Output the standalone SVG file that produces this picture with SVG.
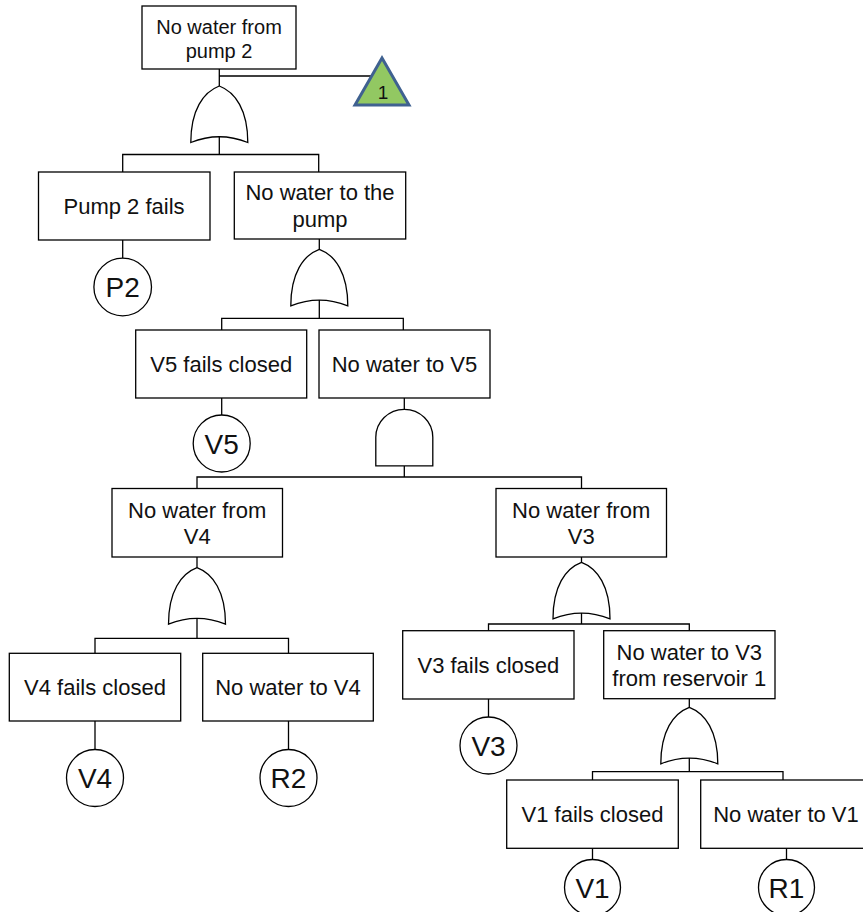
<svg xmlns="http://www.w3.org/2000/svg" xmlns:xlink="http://www.w3.org/1999/xlink" width="863" height="912" viewBox="0 0 863 912">
  <style>
    .box { fill: #ffffff; stroke: #000000; stroke-width: 1.3; }
    .gate { fill: #ffffff; stroke: #000000; stroke-width: 1.3; }
    .basic { fill: #ffffff; stroke: #000000; stroke-width: 1.3; }
    .wire { fill: none; stroke: #000000; stroke-width: 1.3; }
    .lbl { font-family: "Liberation Sans", Arial, sans-serif; font-size: 22px; fill: #111111; text-anchor: middle; }
    .lbl-top { font-family: "Liberation Sans", Arial, sans-serif; font-size: 20px; fill: #111111; text-anchor: middle; }
    .ev { font-family: "Liberation Sans", Arial, sans-serif; font-size: 28px; fill: #111111; text-anchor: middle; }
    .xfer { fill: #92C862; stroke: #3F6190; stroke-width: 3; stroke-linejoin: miter; }
    .xfer-lbl { font-family: "Liberation Sans", Arial, sans-serif; font-size: 19px; fill: #111111; text-anchor: middle; }
  </style>
  <defs>
    <!-- OR gate, origin at the top point -->
    <path id="or-gate" class="gate" d="M0,0 C16,6 28.5,24 28.5,56.5 Q0,45 -28.5,56.5 C-28.5,24 -16,6 0,0 Z"/>
    <!-- AND gate, origin at the top of the dome -->
    <path id="and-gate" class="gate" d="M-28.5,56.5 L-28.5,28 A28.5,28 0 0 1 28.5,28 L28.5,56.5 Z"/>
  </defs>

  <!-- connectors -->
  <g id="connectors" class="wire">
    <path d="M219.3,69 V86 M219.3,76 H372"/>
    <path d="M219.3,136.8 V154.5 M122.7,172 V154.5 H318.7 V172"/>
    <path d="M122.7,240 V258.5"/>
    <path d="M319.3,239 V249.3 M319.3,300 V318.3 M221.7,330 V318.3 H403.3 V330"/>
    <path d="M221.7,398 V415"/>
    <path d="M404.3,398 V409.3 M404.3,466 V477 M197,488.5 V477 H581.5 V488.5"/>
    <path d="M197,557 V567.7 M197,618.5 V638.3 M95,653.3 V638.3 H288.5 V653.3"/>
    <path d="M95,721 V749.5 M288.5,721 V749.5"/>
    <path d="M581.5,557 V562.3 M581.5,613 V624 M488.5,630.7 V624 H689.3 V630.7"/>
    <path d="M488.5,699 V717"/>
    <path d="M689.3,699 V707.3 M689.3,758 V771.7 M592.5,780 V771.7 H783 V780"/>
    <path d="M592.5,848.3 V859 M786.5,848.3 V859"/>
  </g>

  <!-- top event -->
  <g id="top-event">
    <rect class="box" x="142" y="6" width="154" height="63"/>
    <text class="lbl-top" x="219" y="34">No water from</text>
    <text class="lbl-top" x="219" y="58">pump 2</text>
  </g>
  <g id="transfer-1">
    <polygon class="xfer" points="382,58 409,105 355,105"/>
    <text class="xfer-lbl" x="383" y="99">1</text>
  </g>
  <g id="gate-top"><use xlink:href="#or-gate" x="219.3" y="86"/></g>

  <!-- level 2 -->
  <g id="pump2-fails">
    <rect class="box" x="38.5" y="172" width="171.5" height="68"/>
    <text class="lbl" x="124" y="214">Pump 2 fails</text>
  </g>
  <g id="event-p2">
    <circle class="basic" cx="122.7" cy="287" r="28.8"/>
    <text class="ev" x="122.7" y="297">P2</text>
  </g>
  <g id="no-water-pump">
    <rect class="box" x="234.3" y="172" width="171.4" height="67"/>
    <text class="lbl" x="320" y="200">No water to the</text>
    <text class="lbl" x="320" y="227">pump</text>
  </g>
  <g id="gate-pump"><use xlink:href="#or-gate" x="319.3" y="249.3"/></g>

  <!-- level 3 -->
  <g id="v5-fails">
    <rect class="box" x="135.7" y="330" width="171" height="68"/>
    <text class="lbl" x="221.2" y="372">V5 fails closed</text>
  </g>
  <g id="event-v5">
    <circle class="basic" cx="221.7" cy="443.5" r="28.5"/>
    <text class="ev" x="221.7" y="453.5">V5</text>
  </g>
  <g id="no-water-v5">
    <rect class="box" x="319" y="330" width="171" height="68"/>
    <text class="lbl" x="404.5" y="372">No water to V5</text>
  </g>
  <g id="gate-v5"><use xlink:href="#and-gate" x="404.3" y="409.3"/></g>

  <!-- level 4 -->
  <g id="no-water-from-v4">
    <rect class="box" x="112" y="488.5" width="170.5" height="68.5"/>
    <text class="lbl" x="197.2" y="518">No water from</text>
    <text class="lbl" x="197.2" y="544">V4</text>
  </g>
  <g id="gate-v4"><use xlink:href="#or-gate" x="197" y="567.7"/></g>
  <g id="no-water-from-v3">
    <rect class="box" x="496" y="488.5" width="170.5" height="68.5"/>
    <text class="lbl" x="581.2" y="518">No water from</text>
    <text class="lbl" x="581.2" y="544">V3</text>
  </g>
  <g id="gate-v3"><use xlink:href="#or-gate" x="581.5" y="562.3"/></g>

  <!-- V4 branch -->
  <g id="v4-fails">
    <rect class="box" x="9.3" y="653.3" width="171.4" height="67.7"/>
    <text class="lbl" x="95" y="695">V4 fails closed</text>
  </g>
  <g id="event-v4">
    <circle class="basic" cx="95" cy="778" r="28.5"/>
    <text class="ev" x="95" y="788">V4</text>
  </g>
  <g id="no-water-v4">
    <rect class="box" x="202.7" y="653.3" width="170.6" height="67.7"/>
    <text class="lbl" x="288" y="695">No water to V4</text>
  </g>
  <g id="event-r2">
    <circle class="basic" cx="288.5" cy="778" r="28.5"/>
    <text class="ev" x="288.5" y="788">R2</text>
  </g>

  <!-- V3 branch -->
  <g id="v3-fails">
    <rect class="box" x="402.7" y="630.7" width="171.3" height="68.3"/>
    <text class="lbl" x="488.4" y="673">V3 fails closed</text>
  </g>
  <g id="event-v3">
    <circle class="basic" cx="488.5" cy="745.5" r="28.5"/>
    <text class="ev" x="488.5" y="755.5">V3</text>
  </g>
  <g id="no-water-v3-r1">
    <rect class="box" x="603.7" y="630.7" width="171.3" height="68"/>
    <text class="lbl" x="689.3" y="660">No water to V3</text>
    <text class="lbl" x="689.3" y="686">from reservoir 1</text>
  </g>
  <g id="gate-v3-r1"><use xlink:href="#or-gate" x="689.3" y="707.3"/></g>

  <!-- V1 branch -->
  <g id="v1-fails">
    <rect class="box" x="506.7" y="780" width="171.6" height="68.3"/>
    <text class="lbl" x="592.5" y="822">V1 fails closed</text>
  </g>
  <g id="event-v1">
    <circle class="basic" cx="592.5" cy="887.5" r="28"/>
    <text class="ev" x="592.5" y="897.5">V1</text>
  </g>
  <g id="no-water-v1">
    <rect class="box" x="700.7" y="780" width="171" height="68.3"/>
    <text class="lbl" x="786" y="822">No water to V1</text>
  </g>
  <g id="event-r1">
    <circle class="basic" cx="786.5" cy="887.5" r="28"/>
    <text class="ev" x="786.5" y="897.5">R1</text>
  </g>
</svg>
